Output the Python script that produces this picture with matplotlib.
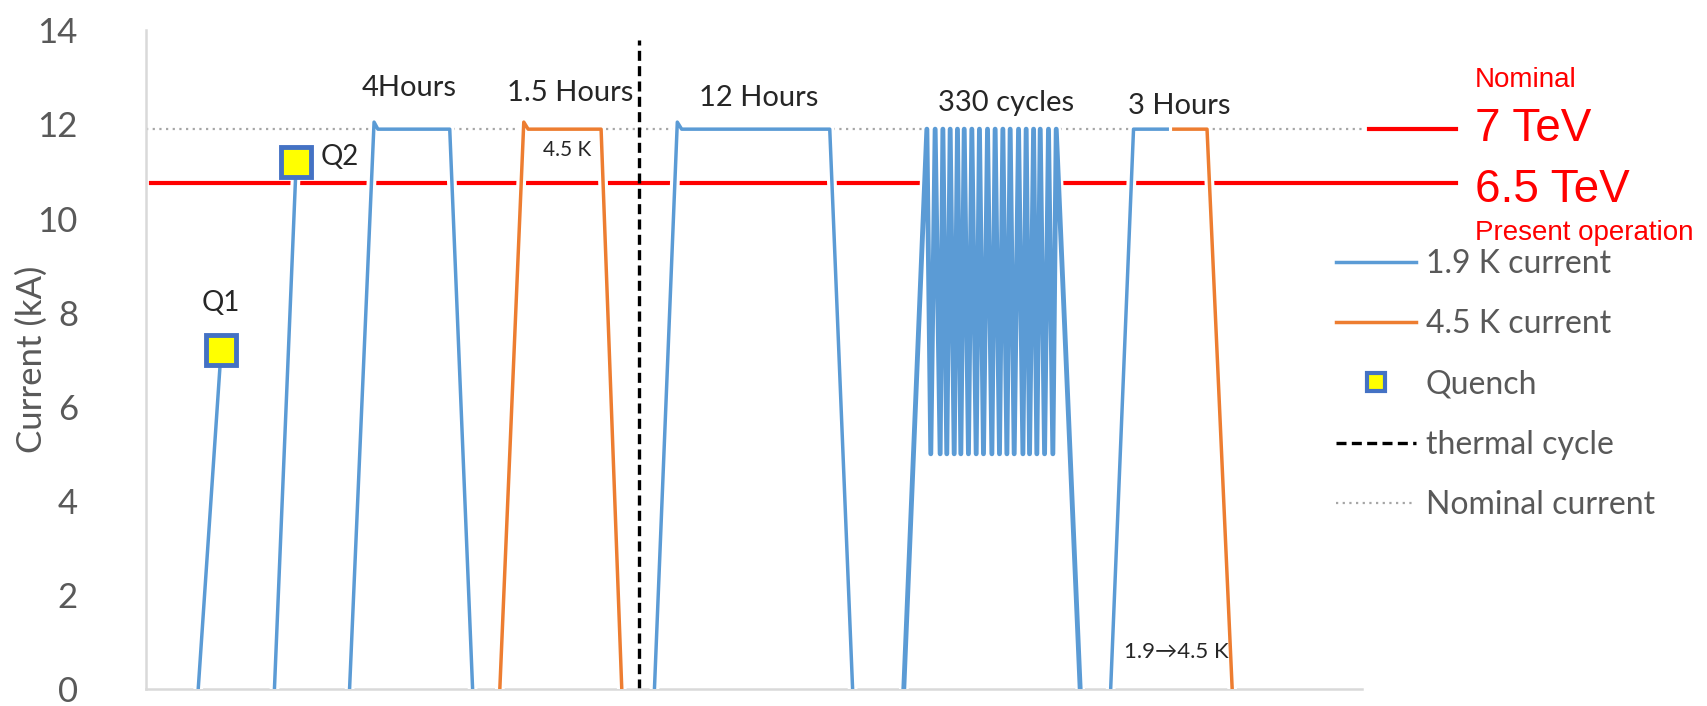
import numpy as np
import matplotlib
matplotlib.use('Agg')
import matplotlib.pyplot as plt
import matplotlib.patheffects as pe
from matplotlib.lines import Line2D

nan = np.nan

# magnet current history, x is a running time index (a.u.)
blue_x = [48, 69, nan, 118, 138, nan, 187, 209.5, 213, 279, 300, nan,
          467, 488, 492, 628, 649, nan, 886, 907, 944]
blue_y = [0, 7.2, nan, 0, 11.2, nan, 0, 12.05, 11.9, 11.9, 0, nan,
          0, 12.05, 11.9, 11.9, 0, nan, 0, 11.9, 11.9]

# fatigue cycling block (330 cycles, shown compressed)
cycle_x = [696, 717.2, 720.8, 724.8, 729.4, 731.9, 735.5, 738.6, 742.3, 745.3,
           748.4, 751.5, 755.4, 758.5, 762.5, 765.5, 769.2, 772.9, 776.9, 779.9,
           783.9, 787.0, 790.7, 793.7, 797.4, 801.4, 805.4, 808.4, 811.5, 815.2,
           818.2, 821.3, 825.3, 828.9, 832.9, 836.0, 858]
cycle_y = [0, 11.9, 5, 11.9, 5, 11.9, 5, 11.9, 5, 11.9,
           5, 11.9, 5, 11.9, 5, 11.9, 5, 11.9, 5, 11.9,
           5, 11.9, 5, 11.9, 5, 11.9, 5, 11.9, 5, 11.9,
           5, 11.9, 5, 11.9, 5, 11.9, 0]

orange_x = [325, 347, 351, 418, 437, nan, 944, 974.5, 997.6]
orange_y = [0, 12.05, 11.9, 11.9, 0, nan, 11.9, 11.9, 0]

quench_x = [69, 138]
quench_y = [7.2, 11.2]
quench_labels = ['Q1', 'Q2']

thermal_cycle_x = 452.5
nominal_current = 11.9
present_current = 10.75

blue = '#5B9BD5'
orange = '#ED7D31'
grey_txt = '#595959'
dark_txt = '#262626'

plt.rcParams['font.family'] = ['Lato', 'DejaVu Sans']

fig = plt.figure(figsize=(17.07, 7.06), dpi=100)
ax = fig.add_axes([0.0855, 0.024, 0.7125, 0.933])

halo = [pe.Stroke(linewidth=7, foreground='white'), pe.Normal()]

# reference levels
ax.plot([0, 1117], [nominal_current] * 2, color='#A6A6A6', lw=1.6,
        linestyle=(0, (1, 2)), zorder=1)
ax.plot([1123, 1203], [nominal_current] * 2, color='red', lw=3, clip_on=False, zorder=1)
ax.plot([4.6, 1203], [present_current] * 2, color='red', lw=3, clip_on=False, zorder=1)

ax.plot(blue_x, blue_y, color=blue, lw=2.5, path_effects=halo, zorder=3)
ax.plot(cycle_x, cycle_y, color=blue, lw=3.5, path_effects=halo, zorder=3)
ax.plot(orange_x, orange_y, color=orange, lw=2.5, path_effects=halo, zorder=3)
ax.plot(quench_x, quench_y, linestyle='none', marker='s', markersize=21,
        markerfacecolor='#FFFF00', markeredgecolor='#4472C4', markeredgewidth=3.5, zorder=4)

ax.vlines(thermal_cycle_x, 0, 13.8, colors='black', lw=2.4,
          linestyles=(0, (3, 1.6)), zorder=2)

# annotations
ax.text(69, 8.2, quench_labels[0], ha='center', va='center', fontsize=20, color=dark_txt)
ax.text(160, 11.3, quench_labels[1], ha='left', va='center', fontsize=20, color=dark_txt)
ax.text(242, 12.78, '4Hours', ha='center', va='center', fontsize=21, color=dark_txt)
ax.text(390, 12.66, '1.5 Hours', ha='center', va='center', fontsize=21, color=dark_txt)
ax.text(387, 11.46, '4.5 K', ha='center', va='center', fontsize=15, color=dark_txt)
ax.text(563, 12.57, '12 Hours', ha='center', va='center', fontsize=21, color=dark_txt)
ax.text(790, 12.45, '330 cycles', ha='center', va='center', fontsize=21, color=dark_txt)
ax.text(949, 12.4, '3 Hours', ha='center', va='center', fontsize=21, color=dark_txt)
ax.text(946, 0.79, '1.9\u21924.5 K', ha='center', va='center', fontsize=16, color=dark_txt)

ax.set_xlim(0, 1117)
ax.set_ylim(0, 14)
ax.set_yticks(np.arange(0, 15, 2))
ax.set_xticks([])
ax.tick_params(axis='y', length=0, pad=49, labelsize=25, labelcolor=grey_txt)
for side in ['top', 'right']:
    ax.spines[side].set_visible(False)
for side in ['left', 'bottom']:
    ax.spines[side].set_color('#D9D9D9')
    ax.spines[side].set_linewidth(1.8)

fig.text(0.0187, 0.491, 'Current (kA)', rotation=90, ha='center', va='center',
         fontsize=25, color=grey_txt)

# energy labels on the right
red_font = dict(color='red', family='Liberation Sans', ha='left', va='baseline')
fig.text(0.864, 0.8763, 'Nominal', fontsize=20, **red_font)
fig.text(0.864, 0.8007, '7 TeV', fontsize=33, **red_font)
fig.text(0.864, 0.7143, '6.5 TeV', fontsize=33, **red_font)
fig.text(0.864, 0.660, 'Present operation', fontsize=20, **red_font)

handles = [
    Line2D([], [], color=blue, lw=2.5),
    Line2D([], [], color=orange, lw=2.5),
    Line2D([], [], linestyle='none', marker='s', markersize=13,
           markerfacecolor='#FFFF00', markeredgecolor='#4472C4', markeredgewidth=3),
    Line2D([], [], color='black', lw=2.4, linestyle=(0, (3, 1.6))),
    Line2D([], [], color='#A6A6A6', lw=1.6, linestyle=(0, (1, 2))),
]
labels = ['1.9 K current', '4.5 K current', 'Quench', 'thermal cycle', 'Nominal current']
leg = fig.legend(handles, labels, loc='upper left', bbox_to_anchor=(0.7827, 0.6475),
                 frameon=False, fontsize=23, handlelength=2.5, handletextpad=0.3,
                 labelspacing=0.95, borderpad=0, borderaxespad=0)
for t in leg.get_texts():
    t.set_color(grey_txt)

fig.savefig('out.png', dpi=100)
